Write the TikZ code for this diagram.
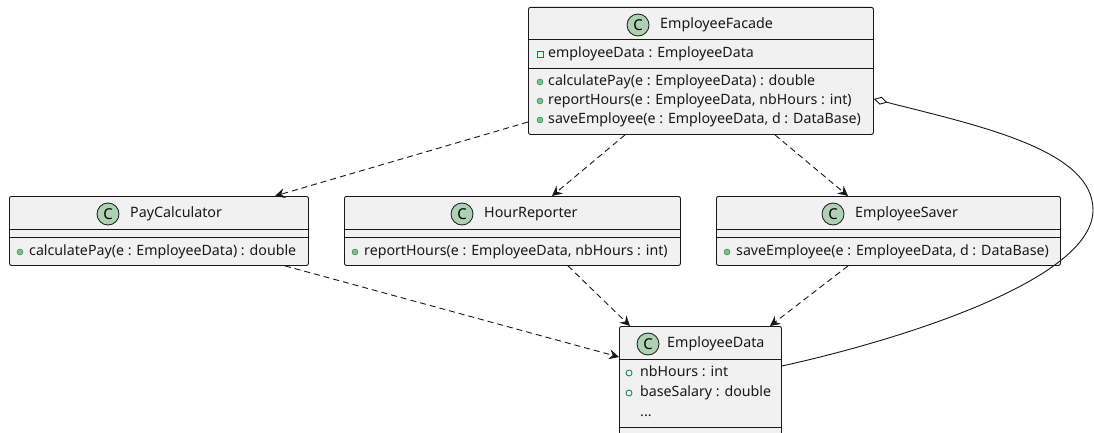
\documentclass[tikz,border=0pt]{standalone}
\usepackage{fontspec}
\setmainfont{Noto Sans}
\usetikzlibrary{arrows.meta,calc}
\definecolor{boxfill}{HTML}{F1F1F1}
\definecolor{boxline}{HTML}{181818}
\definecolor{spotfill}{HTML}{ADD1B2}
\definecolor{pubgreen}{HTML}{84BE84}
\definecolor{fieldgreen}{HTML}{038048}
\definecolor{privred}{HTML}{C82930}
\tikzset{
  classbox/.style={draw=boxline, fill=boxfill, line width=0.9pt, rounded corners=2pt, anchor=north west, inner sep=0pt},
  sepline/.style={draw=boxline, line width=0.9pt},
  spot/.style={circle, draw=boxline, fill=spotfill, line width=0.8pt, minimum size=22pt, inner sep=0pt, font=\fontsize{15}{15}\selectfont\bfseries},
  title/.style={anchor=west, inner sep=0pt, font=\fontsize{14.3}{16}\selectfont, text=boxline, text height=10pt, text depth=3pt},
  member/.style={anchor=west, inner sep=0pt, font=\fontsize{14.2}{16}\selectfont, text=boxline, text height=10pt, text depth=3pt},
  pubm/.style={circle, fill=pubgreen, draw=fieldgreen, line width=0.4pt, minimum size=6pt, inner sep=0pt},
  pubf/.style={circle, draw=fieldgreen, line width=0.8pt, minimum size=6pt, inner sep=0pt},
  privf/.style={rectangle, draw=privred, line width=0.8pt, minimum size=6pt, inner sep=0pt},
  dep/.style={draw=boxline, line width=0.9pt, dash pattern=on 6pt off 4pt, -{Stealth[length=10pt,width=10pt,inset=3.5pt]}},
  agg/.style={draw=boxline, line width=0.9pt, {Diamond[open,length=14pt,width=8pt]}-}
}
\begin{document}
\begin{tikzpicture}[x=1pt,y=-1pt]
\useasboundingbox (0,0) rectangle (1094,433);
\clip (0,0) rectangle (1094,433);
\fill[white] (0,0) rectangle (1094,433);

% ---------- EmployeeFacade ----------
\node[classbox, minimum width=345pt, minimum height=127pt] (ef) at (528,7) {};
\draw[sepline] ($(ef.north west)+(0,32)$) -- ($(ef.north east)+(0,32)$);
\draw[sepline] ($(ef.north west)+(0,61)$) -- ($(ef.north east)+(0,61)$);
\node[spot] (efc) at (638,25) {C};
\node[title] (eft) at (660,25) {EmployeeFacade};
\node[privf] (efa1m) at (540,54) {};
\node[member] (efa1) at (548,54) {employeeData : EmployeeData};
\node[pubm] (efm1m) at (540,82) {};
\node[member] (efm1) at (548,82) {calculatePay(e : EmployeeData) : double};
\node[pubm] (efm2m) at (540,101) {};
\node[member] (efm2) at (548,101) {reportHours(e : EmployeeData, nbHours : int)};
\node[pubm] (efm3m) at (540,120) {};
\node[member] (efm3) at (548,120) {saveEmployee(e : EmployeeData, d : DataBase)};

% ---------- PayCalculator ----------
\node[classbox, minimum width=299pt, minimum height=69pt] (pc) at (9,196) {};
\draw[sepline] ($(pc.north west)+(0,33)$) -- ($(pc.north east)+(0,33)$);
\draw[sepline] ($(pc.north west)+(0,41)$) -- ($(pc.north east)+(0,41)$);
\node[spot] (pcc) at (108,214) {C};
\node[title] (pct) at (130,214) {PayCalculator};
\node[pubm] (pcm1m) at (20,252) {};
\node[member] (pcm1) at (29,252) {calculatePay(e : EmployeeData) : double};

% ---------- HourReporter ----------
\node[classbox, minimum width=336pt, minimum height=69pt] (hr) at (344,196) {};
\draw[sepline] ($(hr.north west)+(0,33)$) -- ($(hr.north east)+(0,33)$);
\draw[sepline] ($(hr.north west)+(0,41)$) -- ($(hr.north east)+(0,41)$);
\node[spot] (hrc) at (462,214) {C};
\node[title] (hrt) at (484,214) {HourReporter};
\node[pubm] (hrm1m) at (355,252) {};
\node[member] (hrm1) at (364,252) {reportHours(e : EmployeeData, nbHours : int)};

% ---------- EmployeeSaver ----------
\node[classbox, minimum width=344pt, minimum height=69pt] (es) at (716,196) {};
\draw[sepline] ($(es.north west)+(0,33)$) -- ($(es.north east)+(0,33)$);
\draw[sepline] ($(es.north west)+(0,41)$) -- ($(es.north east)+(0,41)$);
\node[spot] (esc) at (833,214) {C};
\node[title] (est) at (855,214) {EmployeeSaver};
\node[pubm] (esm1m) at (727,252) {};
\node[member] (esm1) at (736,252) {saveEmployee(e : EmployeeData, d : DataBase)};

% ---------- EmployeeData ----------
\node[classbox, minimum width=162pt, minimum height=130pt] (ed) at (619,326) {};
\draw[sepline] ($(ed.north west)+(0,33)$) -- ($(ed.north east)+(0,33)$);
\draw[sepline] ($(ed.north west)+(0,101)$) -- ($(ed.north east)+(0,101)$);
\node[spot] (edc) at (648,344) {C};
\node[title] (edt) at (667,344) {EmployeeData};
\node[pubf] (eda1m) at (629,373) {};
\node[member] (eda1) at (640,373) {nbHours : int};
\node[pubf] (eda2m) at (629,393) {};
\node[member] (eda2) at (640,393) {baseSalary : double};
\node[member] (eda3) at (640,413) {...};

% ---------- connectors ----------
\draw[dep] ($(ef.north west)+(0,115)$) -- ($(pc.north west)+(266,0)$);
\draw[dep] ($(ef.south west)+(97,0)$) -- ($(hr.north west)+(208,0)$);
\draw[dep] ($(ef.south west)+(247,0)$) -- ($(es.north west)+(132,0)$);
\draw[dep] ($(pc.south west)+(276,0)$) -- ($(ed.north west)+(0,31)$);
\draw[dep] ($(hr.south west)+(224,0)$) -- ($(ed.north west)+(11,0)$);
\draw[dep] ($(es.south west)+(132,0)$) -- ($(ed.north west)+(151,0)$);
\coordinate (aggstart) at ($(ef.north east)+(0,92)$);
\coordinate (aggmid) at (1093,210);
\coordinate (aggend) at ($(ed.north east)+(0,40)$);
\draw[agg] (aggstart) .. controls (980,126) and (1093,150) .. (aggmid)
  .. controls (1093,280) and (900,340) .. (aggend);
\end{tikzpicture}
\end{document}
